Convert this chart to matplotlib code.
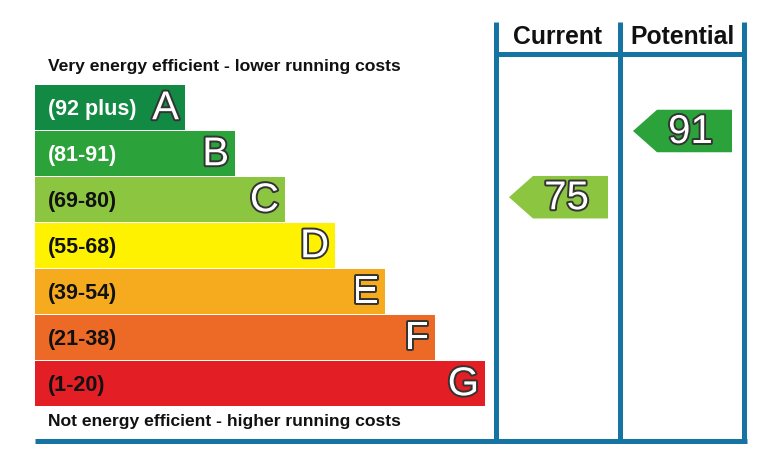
import numpy as np
import matplotlib
matplotlib.use('Agg')
import matplotlib.pyplot as plt
import matplotlib.patheffects as pe
from matplotlib.patches import Polygon, Rectangle

# ── DATA ──────────────────────────────────────────────────────

bands = ['A', 'B', 'C', 'D', 'E', 'F', 'G']
band_ranges = ['(92 plus)', '(81-91)', '(69-80)', '(55-68)', '(39-54)', '(21-38)', '(1-20)']
band_upper = [100, 91, 80, 68, 54, 38, 20]
band_lower = [92, 81, 69, 55, 39, 21, 1]
band_colors = ['#138a43', '#2ba33a', '#8cc540', '#fff200', '#f6ab1f', '#ec6a26', '#e31e25']
label_colors = ['white', 'white', '#111111', '#111111', '#111111', '#111111', '#111111']

current_score = 75
potential_score = 91
column_titles = ['Current', 'Potential']

top_text = 'Very energy efficient - lower running costs'
bottom_text = 'Not energy efficient - higher running costs'

# ── LAYOUT (pixels) ───────────────────────────────────────────

W, H = 772, 456
BAR_LEFT = 35
BAR_TOP = 86
BAR_STEP = 46
BAR_H = 44.5
BAR_W0 = 150
BAR_DW = 50
BLUE = '#1674a3'
LINE_W = 5 * 72 / 100
COLS = [496, 620, 744]
FRAME_TOP = 23
HEADER_Y = 54.5
FRAME_BOTTOM = 442
FONT = 'Liberation Sans'


def band_top(i):
    return BAR_TOP + i * BAR_STEP


def score_to_y(score):
    """Place a score inside its band: band upper -> bar top, lower -> bar bottom"""
    for i in range(len(bands)):
        if band_lower[i] <= score <= band_upper[i]:
            t = band_top(i)
            frac = (band_upper[i] - score) / (band_upper[i] - band_lower[i])
            return t + frac * BAR_H
    return band_top(len(bands) - 1) + BAR_H


def band_of(score):
    for i in range(len(bands)):
        if band_lower[i] <= score <= band_upper[i]:
            return i
    return len(bands) - 1


def draw_arrow(ax, col_left, col_right, score):
    """Pointer arrow with the score in it"""
    yc = score_to_y(score)
    i = band_of(score)
    half = BAR_H / 2 - 1
    tip = col_left + 13
    body_l = tip + 24
    body_r = col_right - 12
    pts = [(tip, yc), (body_l, yc - half), (body_r, yc - half),
           (body_r, yc + half), (body_l, yc + half)]
    ax.add_patch(Polygon(pts, closed=True, facecolor=band_colors[i], edgecolor='none'))
    ax.text((body_l + body_r) / 2 - 4, yc + 1, str(score), fontsize=29,
            family=FONT, color='white', ha='center', va='center',
            path_effects=[pe.withStroke(linewidth=2.8, foreground='#333333')])


def main():
    fig = plt.figure(figsize=(W / 100, H / 100), dpi=100)
    ax = fig.add_axes([0, 0, 1, 1])
    ax.set_xlim(0, W)
    ax.set_ylim(H, 0)
    ax.axis('off')

    # rating bars
    for i, b in enumerate(bands):
        t = band_top(i)
        w = BAR_W0 + BAR_DW * i
        ax.add_patch(Rectangle((BAR_LEFT, t), w, BAR_H, facecolor=band_colors[i], edgecolor='none'))
        ax.text(BAR_LEFT + 13, t + BAR_H / 2 + 1, band_ranges[i], fontsize=15.5,
                family=FONT, weight='bold', color=label_colors[i], ha='left', va='center')
        ax.text(BAR_LEFT + w - 6, t + BAR_H / 2 + 1, b, fontsize=29,
                family=FONT, color='white', ha='right', va='center',
                path_effects=[pe.withStroke(linewidth=2.8, foreground='#333333')])

    ax.text(BAR_LEFT + 13, 66, top_text, fontsize=12.6, family=FONT, weight='bold',
            color='#111111', ha='left', va='center')
    ax.text(BAR_LEFT + 13, 422, bottom_text, fontsize=12.6, family=FONT, weight='bold',
            color='#111111', ha='left', va='center')

    # frame
    for x in COLS:
        ax.plot([x, x], [FRAME_TOP, FRAME_BOTTOM + 2.5], color=BLUE, lw=LINE_W, solid_capstyle='butt')
    ax.plot([COLS[0], COLS[-1]], [HEADER_Y, HEADER_Y], color=BLUE, lw=LINE_W, solid_capstyle='butt')
    ax.plot([BAR_LEFT, COLS[-1] + 2.5], [FRAME_BOTTOM, FRAME_BOTTOM], color=BLUE, lw=LINE_W,
            solid_capstyle='butt')

    for k, title in enumerate(column_titles):
        ax.text((COLS[k] + COLS[k + 1]) / 2, 37, title, fontsize=17.8, family=FONT,
                weight='bold', color='#111111', ha='center', va='center')

    draw_arrow(ax, COLS[0], COLS[1], current_score)
    draw_arrow(ax, COLS[1], COLS[2], potential_score)

    fig.savefig('out.png', dpi=100)


if __name__ == "__main__":
    main()
